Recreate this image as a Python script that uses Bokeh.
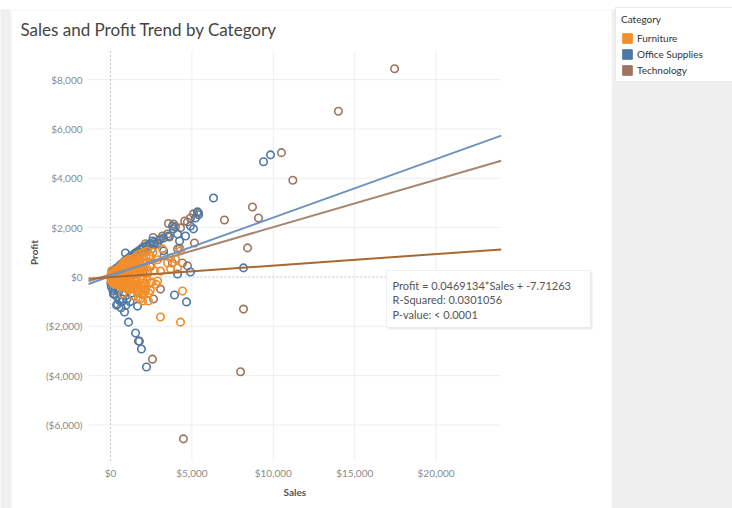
import math
from bokeh.plotting import figure
from bokeh.models import Range1d, Label, Legend, LegendItem, BoxAnnotation
from bokeh.core.properties import value
from bokeh.embed import file_html
from bokeh.resources import INLINE

FONT = "Lato"

categories = ["Furniture", "Office Supplies", "Technology"]
mark_colors = ["#f28e2b", "#4e79a7", "#9c755f"]
trend_colors = ["#a8692f", "#6f93bd", "#a9866f"]

# (sales, profit) per mark
furniture = [
    (20, 5), (50, 10), (80, -15), (100, 20), (150, 30), (40, -40), (120, -60), (180, 60), (200, -20),
    (250, 40), (300, 80), (60, 60), (90, 100), (160, -100), (220, 120), (280, -80), (340, 10),
    (380, 140), (400, -50), (30, -120), (10, 50), (70, -180), (130, 150), (190, -160), (260, 180),
    (320, -150), (360, 200), (420, 60), (450, -120), (480, 180),
    (500, 250), (550, -200), (600, 100), (650, 320), (700, -60), (750, 200), (800, -300), (850, 380),
    (900, 50), (950, -150), (1000, 300), (1050, 450), (1100, -250), (1150, 150), (1200, 500),
    (1250, -50), (1300, 350), (1350, -380), (1400, 580), (1450, 200), (1500, -200), (520, -320),
    (620, -380), (720, 420), (820, -420), (920, 520), (980, -480), (1080, 620), (1180, -350),
    (1280, 700), (1380, -450), (1480, 760), (560, 380), (660, -250), (760, -380), (860, -200),
    (960, 650), (1060, -400), (1160, 720),
    (1550, 800), (1600, 450), (1650, -300), (1700, 900), (1750, 120), (1800, 600), (1850, -480),
    (1900, 950), (1950, 300), (2000, -100), (2050, 1000), (2100, 700), (2150, -500), (2200, 400),
    (2250, 1050), (2300, 150), (2400, 850), (2450, -550), (2500, 500), (2600, 1000), (2700, 250),
    (2800, -300), (2900, 700), (1620, -600), (1720, -650), (1820, 250), (1920, -700), (2020, 600),
    (2120, -250), (2350, -650), (2550, -200),
    (70, 250), (140, -250), (230, -280), (310, 250), (370, -300), (440, 320), (510, -100), (580, -50),
    (640, 20), (690, 280), (740, -150), (790, 100), (840, 250), (890, -350), (940, 180), (990, -50),
    (1040, 80), (1090, 350), (1140, -120), (1190, 250), (1240, 420), (1290, -200), (1340, 120),
    (1390, 300), (1440, -80), (1490, 450), (1540, 100), (1590, -150), (1640, 600), (1690, 350),
    (1740, -350), (1790, 750), (1840, 450), (1890, 50), (1940, -400), (1990, 850), (2040, 350),
    (2090, -300), (2140, 150), (2190, 800), (2240, -100), (330, -200), (470, -250), (610, -200),
    (700, 500), (860, 600), (1010, -300), (1210, -150), (1320, 550), (1600, -450),
    (4420, -570), (3070, -1620), (4300, -1830), (2460, -240), (2150, -570), (1970, -970),
    (2330, -970), (1720, -850), (740, -690), (1110, -490), (3070, 240), (3690, 330), (4120, 370),
    (2890, -160), (2030, -690), (3500, 570), (2460, 850), (3690, 770), (4300, 1060), (3190, 1140),
    (3990, 730), (1410, -770), (1840, -890),
]

office_supplies = [
    (9830, 4950), (9400, 4670), (6330, 3200), (5340, 2640), (5410, 2520), (8170, 370), (4670, -1010),
    (3930, -730), (4910, 200), (4120, 120), (2210, -3650), (1900, -2920), (1540, -2270),
    (1720, -2600), (1110, -1830), (860, -1420), (370, -1140), (430, -1100), (180, -690), (740, -890),
    (1660, -1180), (5100, 1950), (4610, 1660), (4240, 1460), (3810, 2070), (3260, 1580),
    (2890, 1380), (2460, 1340), (3870, 1950), (3260, 1060), (2580, 1460), (3560, 1660),
    (4120, 1740), (4910, 2070), (5220, 2390), (920, 970),
    (100, 200), (200, 280), (350, 350), (500, 420), (650, 520), (800, 600), (950, 700), (1100, 760),
    (1250, 850), (1400, 900), (1550, 980), (1700, 1050), (1850, 1100), (2000, 1200), (2200, 1260),
    (2400, 1320), (2650, 1400), (3000, 1500), (450, 250), (750, 400), (1050, 560), (1350, 700),
    (1650, 850), (1950, 950), (2250, 1100), (2550, 1150), (300, 150), (600, 300), (900, 450),
    (1200, 600), (1500, 750),
    (50, -400), (150, -550), (250, -700), (400, -800), (550, -950), (700, -1000), (100, -300),
    (300, -500), (500, -600), (800, -700), (1000, -900), (1200, -1000), (650, -1250), (950, -1150),
    (20, -250), (1300, -650),
]

technology = [
    (17450, 8440), (14000, 6720), (10500, 5040), (11200, 3920), (8720, 2840), (9090, 2390),
    (7000, 2310), (8420, 1180), (8170, -1300), (7990, -3840), (4480, -6560), (2580, -3330),
    (1780, -2600),
    (5410, 2600), (5100, 2560), (4910, 2390), (4730, 2230), (5160, 1380), (4420, 570), (4730, 450),
    (3070, -490), (2640, -890), (3870, 2150), (3500, 1740), (3070, 1540), (2890, 1340), (3990, 2030),
    (3190, 1660), (3560, 2170), (4560, 2270), (2620, 1600), (2150, 1350), (2700, 1330), (3300, 870),
    (4250, 1160), (3800, 570), (1900, 1150), (1500, 950), (1200, 800), (900, 650), (600, 480),
    (300, 300), (100, 120), (2300, 1200), (1700, 1000), (2450, 420), (1400, -300), (800, -150),
    (200, -80), (1100, 250), (2000, 200), (4120, 1140), (3620, 1620), (4300, 1990),
]

# linear trend per category: profit = slope * sales + intercept
trend_slope = [0.0469134, 0.2372, 0.1923]
trend_intercept = [-7.71263, 37.0, 99.0]
trend_text = ["Profit = 0.0469134*Sales + -7.71263", "R-Squared: 0.0301056", "P-value: < 0.0001"]

x_ticks = [0, 5000, 10000, 15000, 20000]
x_tick_labels = ["$0", "$5,000", "$10,000", "$15,000", "$20,000"]
y_ticks = [-6000, -4000, -2000, 0, 2000, 4000, 6000, 8000]
y_tick_labels = ["($6,000)", "($4,000)", "($2,000)", "$0", "$2,000", "$4,000", "$6,000", "$8,000"]

# plot area extent (data units)
X_MIN, X_MAX = -1350, 24000
Y_MIN, Y_MAX = -7460, 9170

# page geometry: the frame spans the whole canvas, so the plot area is placed via the scales
W, H = 732, 508
SALES_PER_PX, PROFIT_PER_PX = 61.425, 40.53
ZX, ZY = 110, 276.5  # pixel position of (0, 0)


def X(px):
    return (px - ZX) * SALES_PER_PX


def Y(py):
    return (ZY - py) * PROFIT_PER_PX


p = figure(width=W, height=H, x_range=Range1d(X(0), X(W)), y_range=Range1d(Y(H), Y(0)),
           output_backend="svg", toolbar_location=None, title_location=None,
           x_axis_location=None, y_axis_location=None, min_border=0,
           border_fill_color="white", background_fill_color="white", outline_line_color=None)
p.grid.visible = False

# page decoration
p.add_layout(BoxAnnotation(left=X(612), right=X(W + 10), top=Y(9), bottom=Y(H + 10),
                           fill_color="#efefef", fill_alpha=1, line_color=None, level="underlay"))
p.add_layout(BoxAnnotation(left=X(-10), right=X(10), top=Y(9), bottom=Y(H + 10),
                           fill_color="#efefef", fill_alpha=1, line_color=None, level="underlay"))
p.add_layout(BoxAnnotation(left=X(10.5), right=X(611.5), top=Y(9.5), bottom=Y(H + 10),
                           fill_color=None, line_color="#d4d4d4", line_width=1, level="underlay"))

# title
p.add_layout(Label(x=X(20), y=Y(29), text="Sales and Profit Trend by Category", text_font=FONT,
                   text_font_size="17px", text_color="#444444", text_align="left",
                   text_baseline="middle"))

# grid lines and zero lines
gx = [t for t in x_ticks if t != 0]
gy = [t for t in y_ticks if t != 0]
p.segment(x0=gx, y0=[Y_MIN] * len(gx), x1=gx, y1=[Y_MAX] * len(gx), line_color="#eeeeee", line_width=1)
p.segment(x0=[X_MIN] * len(gy), y0=gy, x1=[X_MAX] * len(gy), y1=gy, line_color="#eeeeee", line_width=1)
p.segment(x0=[0, X_MIN], y0=[Y_MIN, 0], x1=[0, X_MAX], y1=[Y_MAX, 0], line_color="#c4c4c4",
          line_width=1, line_dash="2 2")

# tick labels
p.text(x=[X_MIN] * len(y_ticks), y=y_ticks, text=y_tick_labels, x_offset=-6,
       text_align="right", text_baseline="middle", text_font=value(FONT),
       text_font_size=value("10px"), text_color="#8a8a8a")
p.text(x=x_ticks, y=[Y_MIN] * len(x_ticks), text=x_tick_labels, y_offset=6,
       text_align="center", text_baseline="top", text_font=value(FONT),
       text_font_size=value("10px"), text_color="#8a8a8a")

# axis titles
p.add_layout(Label(x=X(33), y=Y(252), text="Profit", angle=math.pi / 2, text_font=FONT,
                   text_font_size="10px", text_font_style="bold", text_color="#555555",
                   text_align="center", text_baseline="middle"))
p.add_layout(Label(x=(X_MIN + X_MAX) / 2, y=Y(491), text="Sales", text_font=FONT,
                   text_font_size="10px", text_font_style="bold", text_color="#555555",
                   text_align="center", text_baseline="middle"))

# marks: technology, office supplies, then furniture on top
for pts, c in ((technology, mark_colors[2]), (office_supplies, mark_colors[1]), (furniture, mark_colors[0])):
    p.scatter([s for s, _ in pts], [v for _, v in pts], marker="circle", size=7.5,
              fill_color=None, line_color=c, line_width=1.6)

for i in (2, 1, 0):
    xs = [X_MIN, X_MAX]
    ys = [trend_slope[i] * x + trend_intercept[i] for x in xs]
    p.line(xs, ys, line_color=trend_colors[i], line_width=2)

# legend with square swatches (swatch renderers hold no drawable point)
NAN = float("nan")
items = []
for cat, c in zip(categories, mark_colors):
    r = p.quad(left=[NAN], right=[NAN], top=[NAN], bottom=[NAN], fill_color=c, line_color=c)
    items.append(LegendItem(label=cat, renderers=[r]))
legend = Legend(items=items, title="Category", location=(615, H - 82), orientation="vertical",
                glyph_width=12, glyph_height=12, label_standoff=4, spacing=4, padding=5,
                title_standoff=7, margin=0, label_width=110, label_height=12,
                label_text_font=FONT, label_text_font_size="10px", label_text_color="#333333",
                title_text_font=FONT, title_text_font_size="10px", title_text_font_style="normal",
                title_text_color="#333333", background_fill_color="white", background_fill_alpha=1,
                border_line_color="#d4d4d4", border_line_width=1)
p.add_layout(legend)

# trend line tooltip
p.add_layout(BoxAnnotation(left=X(388), right=X(592), top=Y(272), bottom=Y(329),
                           fill_color="black", fill_alpha=0.07, line_color=None))
p.add_layout(BoxAnnotation(left=X(386), right=X(590), top=Y(270), bottom=Y(327),
                           fill_color="white", fill_alpha=1, line_color="#cccccc", line_width=1))
p.add_layout(Label(x=X(392), y=Y(278), text="\n".join(trend_text), text_font=FONT,
                   text_font_size="11px", text_color="#555555", text_align="left",
                   text_baseline="top", text_line_height=1.12))

open("out.html", "w").write(file_html(p, INLINE))
